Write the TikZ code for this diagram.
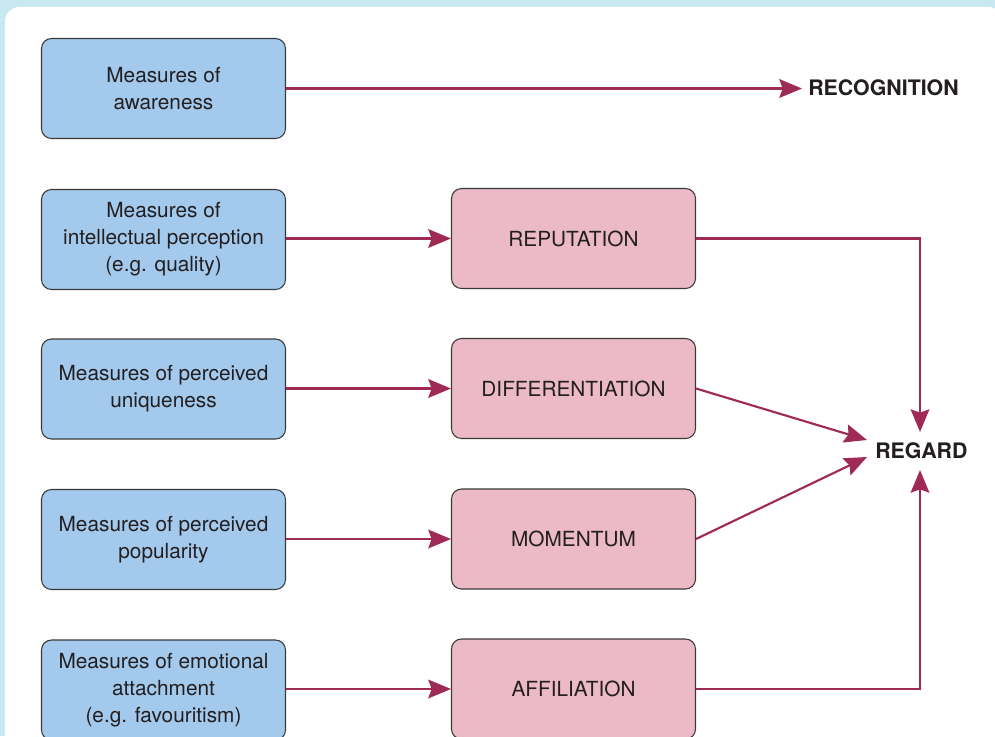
\documentclass[tikz,border=0pt]{standalone}
\usepackage{fontspec}
\setmainfont{TeX Gyre Heros}
\usetikzlibrary{arrows.meta}
\definecolor{bgblue}{HTML}{C9E9F1}
\definecolor{boxblue}{HTML}{A3C9EC}
\definecolor{boxpink}{HTML}{ECBAC6}
\definecolor{arrowc}{HTML}{9E2A55}
\definecolor{edgec}{HTML}{3A3A3A}
\definecolor{txt}{HTML}{231F20}
\tikzset{
  measbox/.style={draw=edgec, line width=0.8pt, fill=boxblue, rounded corners=7.5pt,
    minimum width=183pt, minimum height=75pt, align=center, text=txt,
    font=\fontsize{15.6}{20.3}\selectfont, inner sep=0pt},
  rbox/.style={measbox, fill=boxpink},
  outlabel/.style={text=txt, font=\fontsize{16}{18}\selectfont\bfseries, inner sep=0pt},
  conn/.style={draw=arrowc, line width=1.6pt,
    -{Stealth[length=17pt, width=14pt, inset=2.5pt]}},
}
\begin{document}
\begin{tikzpicture}[x=0.75pt, y=-0.75pt]
\useasboundingbox (0,0) rectangle (995,736);
\fill[bgblue] (0,0) rectangle (995,736);
\fill[white, rounded corners=11pt] (5,7) rectangle (1003,760);

\node[measbox] (m1) at (163.5,88.5) {Measures of\\awareness};
\node[measbox] (m2) at (163.5,239.5) {Measures of\\intellectual perception\\(e.g. quality)};
\node[measbox] (m3) at (163.5,389) {Measures of perceived\\uniqueness};
\node[measbox] (m4) at (163.5,539.5) {Measures of perceived\\popularity};
\node[measbox] (m5) at (163.5,690) {Measures of emotional\\attachment\\(e.g. favouritism)};

\node[rbox] (r2) at (573.5,238.5) {REPUTATION};
\node[rbox] (r3) at (573.5,388.5) {DIFFERENTIATION};
\node[rbox] (r4) at (573.5,539) {MOMENTUM};
\node[rbox] (r5) at (573.5,689) {AFFILIATION};

\node[outlabel, anchor=west] (rec) at (808,88) {RECOGNITION};
\node[outlabel, anchor=west] (reg) at (875,451) {REGARD};

\coordinate (regtop) at (920,432);
\coordinate (regbot) at (920,470);
\coordinate (regl1) at (867,440);
\coordinate (regl2) at (867,457);

\draw[conn] (m1.east) -- (802,88.5) coordinate (recin);
\draw[conn] (m2.east |- r2.west) -- (r2.west);
\draw[conn] (m3.east |- r3.west) -- (r3.west);
\draw[conn] (m4.east |- r4.west) -- (r4.west);
\draw[conn] (m5.east |- r5.west) -- (r5.west);

\draw[conn] (r2.east) -- (920,238.5) -- (regtop);
\draw[conn] (r5.east) -- (920,689) -- (regbot);
\draw[conn] (r3.east) -- (regl1);
\draw[conn] (r4.east) -- (regl2);
\end{tikzpicture}
\end{document}
